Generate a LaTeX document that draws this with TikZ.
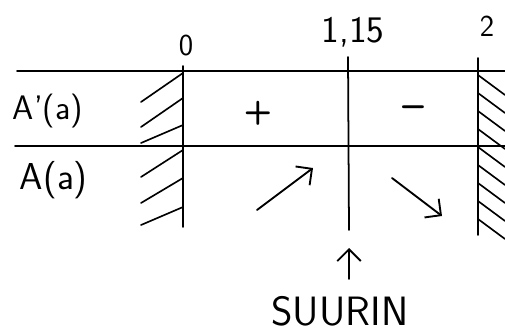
\documentclass[tikz,border=0pt]{standalone}
\usepackage{fontspec}
\usetikzlibrary{arrows.meta}
\begin{document}
\begin{tikzpicture}[x=0.03cm, y=-0.03cm, line width=1.5pt, line cap=round,
    hatch/.style={line width=1.4pt},
    pil/.style={-{Straight Barb[length=10pt,width=20pt]}, line width=1.6pt},
    lbl/.style={font=\sffamily\fontsize{#1}{#1}\selectfont, inner sep=0pt}]
    \useasboundingbox (0,0) rectangle (505,332);

    % Rows of the chart
    \coordinate (r1w) at (17,71);  \coordinate (r1e) at (505,71);
    \coordinate (r2w) at (15,146); \coordinate (r2e) at (505,146);
    \draw (r1w) -- (r1e);
    \draw (r2w) -- (r2e);

    % Vertical lines at 0, 1,15 and 2
    \coordinate (v0t) at (183,66);  \coordinate (v0b) at (183,227);
    \coordinate (v1t) at (348,57);  \coordinate (v1b) at (349,230);
    \coordinate (v2t) at (478,58);  \coordinate (v2b) at (478,235);
    \draw (v0t) -- (v0b);
    \draw (v1t) -- (v1b);
    \draw (v2t) -- (v2b);

    % Hatching outside the domain
    \foreach \ya/\yb in {102/73, 127/98, 143/125, 177/150, 203/178, 225/207}
        \draw[hatch] (141,\ya) -- (183,\yb);
    \foreach \y in {75, 93, 111, 129, 147, 165, 183, 201, 219}
        \draw[hatch] (478,\y) -- (505,\y+20);

    % Axis values
    \node[lbl=26] (n0) at (186,46) {0};
    \node[lbl=32] (n115) at (353,32) {1,15};
    \node[lbl=26] (n2) at (487,26) {2};

    % Row labels
    \node[lbl=29, anchor=west] (dA) at (12,111) {A'(a)};
    \node[lbl=32, anchor=west] (A) at (19,180) {A(a)};

    % Signs of the derivative
    \node[lbl=28] (plus) at (258,113) {\bfseries +};
    \node[lbl=34] (minus) at (413,112) {\bfseries –};

    % Growth arrows
    \coordinate (upA) at (257,210); \coordinate (upB) at (313,168);
    \coordinate (dnA) at (392,178); \coordinate (dnB) at (442,216);
    \draw[pil] (upA) -- (upB);
    \draw[pil] (dnA) -- (dnB);

    % Maximum
    \node[lbl=35] (suurin) at (340,311) {SUURIN};
    \coordinate (tip) at (349,248);
    \draw[pil] (349,279) -- (tip);
\end{tikzpicture}
\end{document}
